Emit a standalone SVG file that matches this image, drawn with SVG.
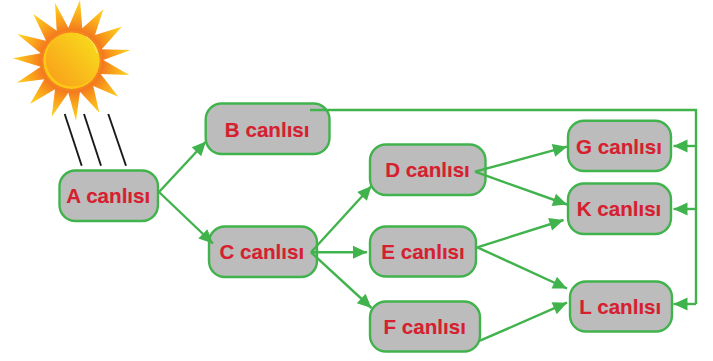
<svg xmlns="http://www.w3.org/2000/svg" width="713" height="361" viewBox="0 0 713 361">
  <style>
    .box { fill: #bbbcbb; stroke: #41b34d; stroke-width: 2.4; }
    .label { font-family: "Liberation Sans", Arial, sans-serif; font-weight: 700; font-size: 20.6px; fill: #d6202f; stroke: #d6202f; stroke-width: 0.12; text-anchor: middle; }
    .link { fill: none; stroke: #41b34d; stroke-width: 2.4; }
    .ray { stroke: #1a1a1a; stroke-width: 1.9; }
  </style>
  <defs>
    <marker id="head" markerUnits="userSpaceOnUse" markerWidth="18" markerHeight="16" refX="14" refY="7" orient="auto" overflow="visible">
      <path d="M0 0.5 L14 7 L0 13.5 Z" fill="#41b34d"/>
    </marker>
    <radialGradient id="flare" gradientUnits="userSpaceOnUse" cx="72" cy="61" r="60">
      <stop offset="0.5" stop-color="#f3771f"/>
      <stop offset="0.68" stop-color="#f99d1b"/>
      <stop offset="1" stop-color="#ffd51f"/>
    </radialGradient>
    <linearGradient id="disc" x1="0.1" y1="0.9" x2="0.9" y2="0.2">
      <stop offset="0" stop-color="#f9a11b"/>
      <stop offset="1" stop-color="#f8d71c"/>
    </linearGradient>
  </defs>

  <!-- sun -->
  <g id="sun">
    <polygon fill="url(#flare)" points="80,0 82.3,28.3 103.3,9.3 95,35 121.7,26.7 101.7,49.3 130.7,50 103.3,60 129.3,75 100.7,74 118.3,96.7 93.3,86 99.3,112.7 80,91.7 76,120.7 68.3,92.7 51.7,116.7 55,89.3 30,104 44.3,79.3 16.7,82.7 40.7,66.7 12.7,58.3 40.7,53.3 17.3,34 46,40.7 33.3,14 56.7,30.7 55,2.7 68.3,27.7"/>
    <circle cx="71.7" cy="60.7" r="30.5" fill="#f58420"/>
    <circle cx="71.5" cy="60.8" r="28.2" fill="#fcc815"/>
    <circle cx="72.6" cy="59.8" r="26.8" fill="url(#disc)"/>
    <path d="M86 36.5 A27 27 0 0 1 97 53" fill="none" stroke="#fbe67a" stroke-width="0.9"/>
    <line class="ray" x1="64.7" y1="114" x2="81.7" y2="165.7"/>
    <line class="ray" x1="84" y1="114" x2="101" y2="165.7"/>
    <line class="ray" x1="108.3" y1="114" x2="126" y2="165.7"/>
  </g>

  <!-- organisms -->
  <g id="node-a"><rect class="box" x="59.5" y="170.5" width="98.5" height="50.5" rx="16"/><text class="label" x="108.3" y="202.7">A canlısı</text></g>
  <g id="node-b"><rect class="box" x="205.7" y="103.5" width="123.8" height="50.5" rx="16"/><text class="label" x="267.2" y="136.7">B canlısı</text></g>
  <g id="node-c"><rect class="box" x="209" y="226.5" width="108" height="50.5" rx="16"/><text class="label" x="261.8" y="259.3">C canlısı</text></g>
  <g id="node-d"><rect class="box" x="370" y="144.5" width="115.5" height="50.5" rx="16"/><text class="label" x="427.5" y="177">D canlısı</text></g>
  <g id="node-e"><rect class="box" x="370" y="226.5" width="106" height="50" rx="16"/><text class="label" x="423" y="259.3">E canlısı</text></g>
  <g id="node-f"><rect class="box" x="370" y="301.5" width="110" height="50" rx="16"/><text class="label" x="424.7" y="334">F canlısı</text></g>
  <g id="node-g"><rect class="box" x="568" y="120.7" width="103" height="50.3" rx="16"/><text class="label" x="619" y="153.7">G canlısı</text></g>
  <g id="node-k"><rect class="box" x="568" y="183.5" width="103" height="50.5" rx="16"/><text class="label" x="619" y="216">K canlısı</text></g>
  <g id="node-l"><rect class="box" x="570" y="281.5" width="102" height="50" rx="16"/><text class="label" x="620.3" y="314">L canlısı</text></g>

  <!-- food-web links -->
  <g id="connectors">
    <path class="link" marker-end="url(#head)" d="M159 192 L206 141.5"/>
    <path class="link" marker-end="url(#head)" d="M159 192 L213 243.5"/>
    <path class="link" marker-end="url(#head)" d="M311 252.3 L371.5 186"/>
    <path class="link" marker-end="url(#head)" d="M311 252.3 L367 252.3"/>
    <path class="link" marker-end="url(#head)" d="M311 252.3 L371.5 308"/>
    <path class="link" marker-end="url(#head)" d="M475 171.7 L567 146.7"/>
    <path class="link" marker-end="url(#head)" d="M475 171.7 L567 204.5"/>
    <path class="link" marker-end="url(#head)" d="M477.3 247.3 L563.5 220"/>
    <path class="link" marker-end="url(#head)" d="M477.3 247.3 L567 288.5"/>
    <path class="link" marker-end="url(#head)" d="M480 340.7 L567 302.7"/>
    <path class="link" d="M310 110 H696 V304"/>
    <path class="link" marker-end="url(#head)" d="M696 146 H673.5"/>
    <path class="link" marker-end="url(#head)" d="M696 209 H673.5"/>
    <path class="link" marker-end="url(#head)" d="M696 304 H673.5"/>
  </g>
</svg>
